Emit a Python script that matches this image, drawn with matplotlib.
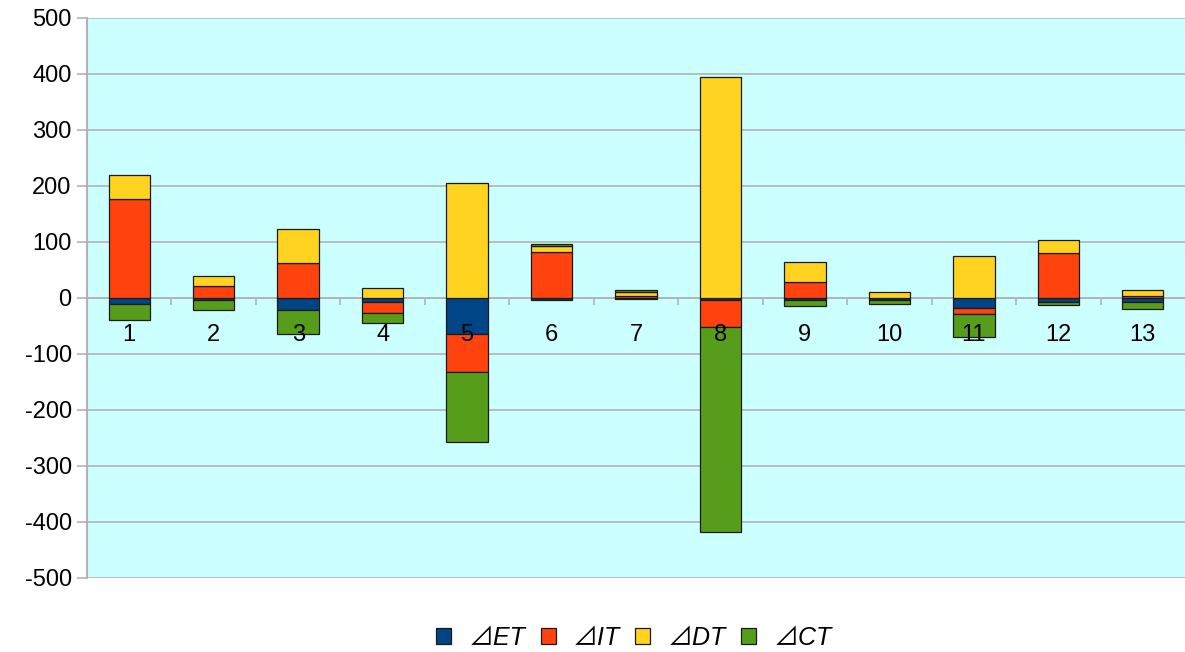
import matplotlib.pyplot as plt
import numpy as np

plt.rcParams['axes.unicode_minus'] = False

# values
categories = ['1', '2', '3', '4', '5', '6', '7', '8', '9', '10', '11', '12', '13']
d_et = [-11, -3, -22, -8, -64, -3, -1, -3, -3, -3, -18, -8, -8]
d_it = [177, 21, 63, -18, -68, 82, 3, -48, 28, -1, -11, 81, 4]
d_dt = [43, 18, 61, 18, 205, 10, 8, 395, 36, 11, 75, 22, 10]
d_ct = [-29, -19, -42, -18, -125, 4, 3, -367, -12, -7, -40, -4, -11]
series_names = ['⊿ET', '⊿IT', '⊿DT', '⊿CT']

colors = ['#004586', '#ff420e', '#ffd320', '#579d1c']
gray = '#b3b3b3'

fig = plt.figure(figsize=(11.85, 6.52), dpi=100)
ax = fig.add_axes([87/1185, 74/652, 1098/1185, 560/652])
ax.set_facecolor('#ccffff')

x = np.arange(len(categories))
pos_base = np.zeros(len(categories))
neg_base = np.zeros(len(categories))
handles = []
for vals, col, name in zip([d_et, d_it, d_dt, d_ct], colors, series_names):
    v = np.array(vals, dtype=float)
    bottom = np.where(v >= 0, pos_base, neg_base)
    b = ax.bar(x, v, 0.49, bottom=bottom, color=col, edgecolor='#1a1a1a',
               linewidth=0.9, label=name, zorder=3)
    handles.append(b)
    pos_base = pos_base + np.where(v >= 0, v, 0)
    neg_base = neg_base + np.where(v < 0, v, 0)

ax.set_xlim(-0.5, len(categories) - 0.5)
ax.set_ylim(-500, 500)
ax.set_yticks(np.arange(-500, 501, 100))
ax.yaxis.grid(True, color=gray, linewidth=1.2, zorder=0)
ax.set_axisbelow(True)

for s in ['top', 'right']:
    ax.spines[s].set_visible(False)
ax.spines['left'].set_color(gray)
ax.spines['left'].set_linewidth(1.5)
ax.spines['bottom'].set_position(('data', 0))
ax.spines['bottom'].set_color(gray)
ax.spines['bottom'].set_linewidth(1.2)
ax.spines['bottom'].set_zorder(2.5)

ax.tick_params(axis='y', colors=gray, length=7, width=1.2, labelcolor='black',
               labelsize=17, pad=4)
ax.set_xticks(x)
ax.set_xticklabels(categories)
ax.tick_params(axis='x', which='major', length=0, labelsize=17, pad=19)
ax.set_xticks(np.arange(0.5, len(categories) - 1, 1), minor=True)
ax.tick_params(axis='x', which='minor', length=5, width=1.2, colors=gray)
ax.xaxis.set_zorder(5)
for lab in ax.get_xticklabels() + ax.get_yticklabels():
    lab.set_fontfamily(['Liberation Sans', 'DejaVu Sans'])

leg = fig.legend(handles=handles, loc='center', bbox_to_anchor=(634/1185, 1 - 638/652),
                 ncol=4, frameon=False, handlelength=0.6, handleheight=0.6,
                 handletextpad=0.7, columnspacing=0.6,
                 prop={'family': ['Liberation Sans', 'Noto Sans CJK SC', 'DejaVu Sans'],
                       'style': 'italic', 'size': 18})

fig.savefig('out.png', dpi=100)
